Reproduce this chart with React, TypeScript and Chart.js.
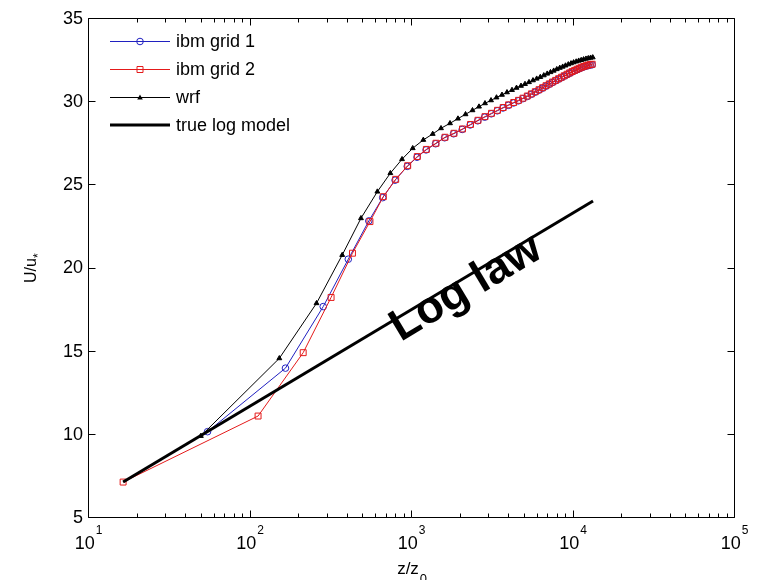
import React, { useEffect, useRef } from "react";
import { Chart, registerables } from "chart.js";

Chart.register(...registerables);

// ---- data ----
const GRID1_Z = [55, 167, 286, 409, 548, 668, 797, 948, 1090, 1240, 1420, 1615, 1835, 2075, 2325, 2590, 2860, 3140, 3420, 3710, 4010, 4310, 4620, 4925, 5240, 5555, 5870, 6190, 6520, 6840, 7170, 7505, 7845, 8190, 8535, 8880, 9230, 9580, 9925, 10290, 10650, 11000, 11370, 11730, 12100, 12470, 12850, 13230];
const GRID1_U = [10.13, 13.95, 17.65, 20.5, 22.8, 24.2, 25.25, 26.08, 26.63, 27.07, 27.44, 27.8, 28.04, 28.3, 28.57, 28.82, 29.04, 29.24, 29.42, 29.59, 29.75, 29.89, 30.02, 30.15, 30.28, 30.41, 30.54, 30.66, 30.78, 30.9, 31.01, 31.12, 31.22, 31.32, 31.41, 31.5, 31.59, 31.67, 31.75, 31.82, 31.89, 31.95, 32.01, 32.06, 32.1, 32.14, 32.17, 32.19];

const GRID2_Z = [16.5, 113, 215, 320, 434, 557, 674, 804, 954, 1094, 1245, 1428, 1624, 1846, 2084, 2336, 2599, 2872, 3151, 3432, 3723, 4021, 4324, 4630, 4938, 5250, 5565, 5884, 6202, 6530, 6855, 7182, 7519, 7858, 8204, 8549, 8896, 9247, 9597, 9943, 10304, 10664, 11017, 11383, 11749, 12120, 12488, 12868, 13243];
const GRID2_U = [7.1, 11.07, 14.88, 18.2, 20.86, 22.76, 24.26, 25.3, 26.12, 26.67, 27.1, 27.47, 27.83, 28.07, 28.33, 28.6, 28.85, 29.07, 29.27, 29.45, 29.62, 29.78, 29.92, 30.05, 30.18, 30.31, 30.44, 30.57, 30.69, 30.81, 30.93, 31.04, 31.15, 31.25, 31.35, 31.44, 31.53, 31.62, 31.7, 31.78, 31.85, 31.92, 31.98, 32.04, 32.09, 32.13, 32.17, 32.2, 32.22];

const WRF_Z = [50, 153, 260, 375, 490, 619, 745, 880, 1025, 1192, 1363, 1534, 1744, 1954, 2176, 2403, 2637, 2872, 3130, 3384, 3660, 3930, 4221, 4502, 4800, 5080, 5378, 5693, 6002, 6318, 6643, 6972, 7307, 7648, 7993, 8343, 8695, 9050, 9420, 9789, 10158, 10542, 10925, 11320, 11712, 12120, 12522, 12941, 13352];
const WRF_U = [9.87, 14.54, 17.85, 20.75, 22.96, 24.56, 25.67, 26.51, 27.17, 27.67, 28.03, 28.37, 28.67, 28.95, 29.21, 29.45, 29.67, 29.87, 30.05, 30.22, 30.38, 30.53, 30.67, 30.8, 30.92, 31.03, 31.14, 31.25, 31.35, 31.45, 31.55, 31.65, 31.74, 31.83, 31.92, 32.0, 32.07, 32.14, 32.21, 32.27, 32.33, 32.38, 32.43, 32.47, 32.51, 32.55, 32.58, 32.61, 32.63];

const LOG_Z = [16.5, 13400];
const LOG_U = [7.1, 24.0];

const SERIES_LABELS = ["ibm grid 1", "ibm grid 2", "wrf", "true log model"];
const X_MAJOR = [10, 100, 1000, 10000, 100000];
const X_EXPONENTS = ["1", "2", "3", "4", "5"];
const Y_TICKS = [5, 10, 15, 20, 25, 30, 35];
const X_TITLE = "z/z";
const X_TITLE_SUB = "0";
const Y_TITLE = "U/u";
const Y_TITLE_SUB = "*";
const NOTE_TEXT = "Log law";
const NOTE_AT = { z: 2200, u: 18.75 };

const FONT = "'Liberation Sans', Arial, Helvetica, sans-serif";
const BLUE = "#2020c0";
const RED = "#e41a1a";
const BLACK = "#000000";

const toPts = (xs: number[], ys: number[]) => xs.map((x, i) => ({ x, y: ys[i] }));

function drawMarker(ctx: CanvasRenderingContext2D, style: string, cx: number, cy: number, color: string) {
  ctx.save();
  ctx.strokeStyle = color;
  ctx.fillStyle = color;
  ctx.lineWidth = 1;
  ctx.beginPath();
  if (style === "circle") {
    ctx.arc(cx, cy, 3.3, 0, Math.PI * 2);
    ctx.stroke();
  } else if (style === "rect") {
    ctx.rect(cx - 3, cy - 3, 6, 6);
    ctx.stroke();
  } else if (style === "triangle") {
    ctx.moveTo(cx, cy - 3);
    ctx.lineTo(cx + 2.8, cy + 2);
    ctx.lineTo(cx - 2.8, cy + 2);
    ctx.closePath();
    ctx.fill();
  }
  ctx.restore();
}

const decorPlugin = {
  id: "decor",
  afterDraw(chart: any) {
    const { ctx, chartArea: a, scales } = chart;
    const xs = scales.x;
    const ys = scales.y;
    ctx.save();
    const L = Math.round(a.left) + 0.5;
    const R = Math.round(a.right) + 0.5;
    const T = Math.round(a.top) + 0.5;
    const B = Math.round(a.bottom) + 0.5;
    ctx.strokeStyle = "#000";
    ctx.lineWidth = 1;
    ctx.beginPath();
    ctx.rect(L, T, R - L, B - T);
    ctx.stroke();

    // x ticks (major + minor), inward on bottom and top
    ctx.beginPath();
    for (let d = 0; d < X_MAJOR.length; d++) {
      const base = X_MAJOR[d];
      const px = Math.round(xs.getPixelForValue(base)) + 0.5;
      ctx.moveTo(px, B); ctx.lineTo(px, B - 7);
      ctx.moveTo(px, T); ctx.lineTo(px, T + 7);
      if (d < X_MAJOR.length - 1) {
        for (let m = 2; m <= 9; m++) {
          const mx = Math.round(xs.getPixelForValue(base * m)) + 0.5;
          ctx.moveTo(mx, B); ctx.lineTo(mx, B - 4);
          ctx.moveTo(mx, T); ctx.lineTo(mx, T + 4);
        }
      }
    }
    for (const v of Y_TICKS) {
      const py = Math.round(ys.getPixelForValue(v)) + 0.5;
      ctx.moveTo(L, py); ctx.lineTo(L + 7, py);
      ctx.moveTo(R, py); ctx.lineTo(R - 7, py);
    }
    ctx.stroke();

    // y tick labels
    ctx.fillStyle = "#000";
    ctx.font = `18px ${FONT}`;
    ctx.textAlign = "right";
    ctx.textBaseline = "middle";
    for (const v of Y_TICKS) {
      ctx.fillText(String(v), a.left - 5, ys.getPixelForValue(v) + 1);
    }

    // x tick labels: 10^n
    ctx.textBaseline = "alphabetic";
    ctx.textAlign = "left";
    X_MAJOR.forEach((v, i) => {
      const px = xs.getPixelForValue(v);
      ctx.font = `18px ${FONT}`;
      const w1 = ctx.measureText("10").width;
      ctx.font = `12px ${FONT}`;
      const w2 = ctx.measureText(X_EXPONENTS[i]).width;
      const start = px - (w1 + w2) / 2;
      ctx.font = `18px ${FONT}`;
      ctx.fillText("10", start, 549);
      ctx.font = `12px ${FONT}`;
      ctx.fillText(X_EXPONENTS[i], start + w1 + 1, 534);
    });

    // x title
    const cxT = (a.left + a.right) / 2;
    ctx.font = `17px ${FONT}`;
    const wt = ctx.measureText(X_TITLE).width;
    ctx.fillText(X_TITLE, cxT - wt / 2 - 3, 574);
    ctx.font = `13px ${FONT}`;
    ctx.fillText(X_TITLE_SUB, cxT + wt / 2 - 2, 583);

    // y title (rotated)
    ctx.save();
    const cyT = (a.top + a.bottom) / 2;
    ctx.translate(36, cyT);
    ctx.rotate(-Math.PI / 2);
    ctx.font = `16px ${FONT}`;
    const wy = ctx.measureText(Y_TITLE).width;
    ctx.fillText(Y_TITLE, -wy / 2 - 3, 0);
    ctx.font = `12px ${FONT}`;
    ctx.fillText(Y_TITLE_SUB, wy / 2 - 3, 6);
    ctx.restore();

    // legend
    const rows = [41.5, 69.5, 97.5, 125];
    const styles = [
      { color: BLUE, marker: "circle", width: 1 },
      { color: RED, marker: "rect", width: 1 },
      { color: BLACK, marker: "triangle", width: 1 },
      { color: BLACK, marker: "", width: 3 },
    ];
    rows.forEach((ry, i) => {
      const s = styles[i];
      ctx.strokeStyle = s.color;
      ctx.lineWidth = s.width;
      ctx.beginPath();
      ctx.moveTo(110, ry);
      ctx.lineTo(170, ry);
      ctx.stroke();
      if (s.marker) drawMarker(ctx, s.marker, 140, ry, s.color);
      ctx.fillStyle = "#000";
      ctx.font = `18px ${FONT}`;
      ctx.textAlign = "left";
      ctx.textBaseline = "middle";
      ctx.fillText(SERIES_LABELS[i], 176, ry + 1);
    });

    // "Log law" note, parallel to the log-law line
    const p1x = xs.getPixelForValue(LOG_Z[0]);
    const p1y = ys.getPixelForValue(LOG_U[0]);
    const p2x = xs.getPixelForValue(LOG_Z[1]);
    const p2y = ys.getPixelForValue(LOG_U[1]);
    const ang = Math.atan2(p2y - p1y, p2x - p1x);
    ctx.save();
    ctx.translate(xs.getPixelForValue(NOTE_AT.z), ys.getPixelForValue(NOTE_AT.u));
    ctx.rotate(ang);
    ctx.font = `bold 45px ${FONT}`;
    ctx.fillStyle = "#000";
    ctx.textAlign = "center";
    ctx.textBaseline = "middle";
    ctx.fillText(NOTE_TEXT, 0, 0);
    ctx.restore();

    ctx.restore();
  },
};

export default function App() {
  const ref = useRef<HTMLCanvasElement>(null);
  useEffect(() => {
    const canvas = ref.current;
    if (!canvas) return;
    const chart = new Chart(canvas, {
      type: "line",
      data: {
        datasets: [
          {
            label: SERIES_LABELS[3],
            data: toPts(LOG_Z, LOG_U),
            borderColor: BLACK,
            borderWidth: 3,
            pointRadius: 0,
            order: 1,
          },
          {
            label: SERIES_LABELS[2],
            data: toPts(WRF_Z, WRF_U),
            borderColor: BLACK,
            borderWidth: 1,
            pointStyle: "triangle",
            pointRadius: 2.8,
            pointBorderWidth: 1,
            pointBackgroundColor: BLACK,
            pointBorderColor: BLACK,
            order: 2,
          },
          {
            label: SERIES_LABELS[1],
            data: toPts(GRID2_Z, GRID2_U),
            borderColor: RED,
            borderWidth: 1,
            pointStyle: "rect",
            pointRadius: 4.2,
            pointBorderWidth: 1,
            pointBackgroundColor: "rgba(0,0,0,0)",
            pointBorderColor: RED,
            order: 3,
          },
          {
            label: SERIES_LABELS[0],
            data: toPts(GRID1_Z, GRID1_U),
            borderColor: BLUE,
            borderWidth: 1,
            pointStyle: "circle",
            pointRadius: 3.3,
            pointBorderWidth: 1,
            pointBackgroundColor: "rgba(0,0,0,0)",
            pointBorderColor: BLUE,
            order: 4,
          },
        ],
      } as any,
      options: {
        responsive: false,
        animation: false,
        devicePixelRatio: 1,
        layout: { padding: { left: 88, top: 18, right: 23, bottom: 63 } },
        plugins: { legend: { display: false }, tooltip: { enabled: false } },
        elements: { line: { tension: 0 } },
        scales: {
          x: { type: "logarithmic", min: 10, max: 100000, display: false },
          y: { type: "linear", min: 5, max: 35, display: false },
        },
      } as any,
      plugins: [decorPlugin],
    });
    return () => chart.destroy();
  }, []);
  return (
    <div style={{ position: "absolute", left: 0, top: 0, width: 757, height: 580, background: "#fff" }}>
      <canvas ref={ref} width={757} height={580} style={{ display: "block", width: 757, height: 580 }} />
    </div>
  );
}
